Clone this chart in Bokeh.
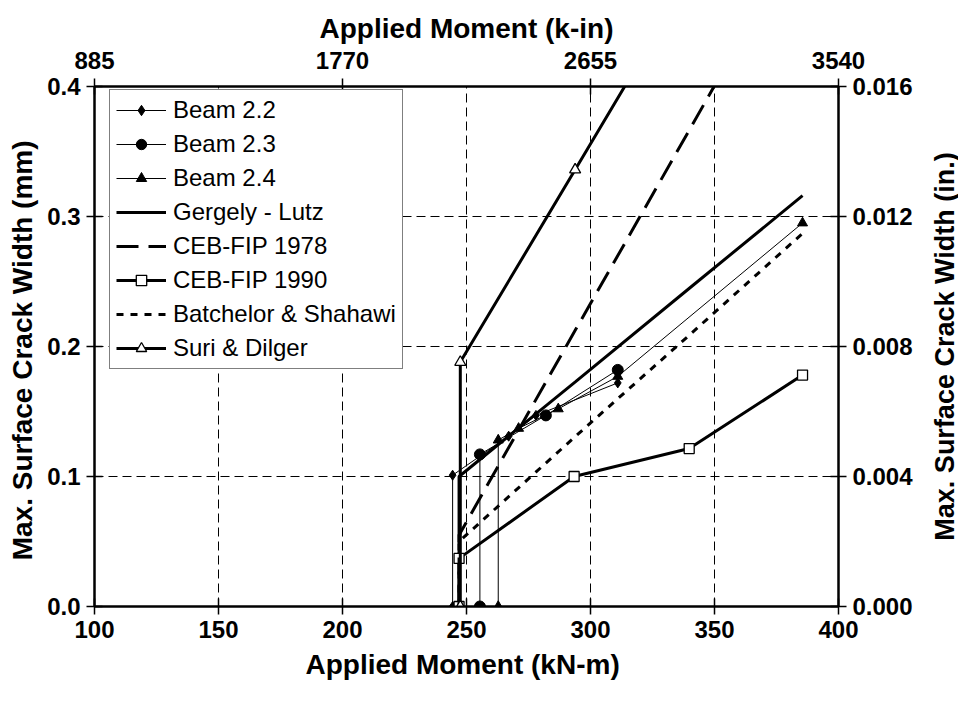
from bokeh.plotting import figure
from bokeh.layouts import row
from bokeh.models import (Range1d, LinearAxis, FixedTicker, NumeralTickFormatter,
                          Legend, LegendItem, Grid)
from bokeh.embed import file_html
from bokeh.resources import INLINE

# ---------------- data ----------------
beam22_m = [244.4, 244.4, 267.0, 278.0, 311.0]
beam22_w = [0.0, 0.101, 0.131, 0.147, 0.172]

beam23_m = [255.4, 255.4, 282.0, 311.0]
beam23_w = [0.0, 0.117, 0.147, 0.182]

beam24_m = [262.8, 262.8, 271.0, 287.0, 311.0, 385.5]
beam24_w = [0.0, 0.128, 0.137, 0.152, 0.177, 0.295]

gergely_m = [247.0, 247.0, 294.0, 340.0, 385.5]
gergely_w = [0.0, 0.100, 0.173, 0.245, 0.316]

ceb78_m = [247.0, 247.0, 294.0, 340.0, 385.5]
ceb78_w = [0.0, 0.055, 0.213, 0.367, 0.520]

ceb90_m = [247.0, 247.0, 293.4, 339.8, 385.5]
ceb90_w = [0.0, 0.037, 0.100, 0.1215, 0.178]

batch_m = [247.0, 247.0, 294.0, 340.0, 385.5]
batch_w = [0.0, 0.050, 0.131, 0.209, 0.287]

suri_m = [247.5, 247.5, 293.8, 340.0]
suri_w = [0.0, 0.188, 0.336, 0.484]

x_ticks = [100, 150, 200, 250, 300, 350, 400]
y_ticks = [0.0, 0.1, 0.2, 0.3, 0.4]
kin_ticks = [885, 1770, 2655, 3540]
in_ticks = [0.0, 0.004, 0.008, 0.012, 0.016]

FONT = "Liberation Sans"

p = figure(width=922, height=691, x_range=Range1d(100, 400), y_range=Range1d(0, 0.4),
           output_backend="svg", toolbar_location=None,
           x_axis_location=None, y_axis_location=None,
           min_border_left=94, min_border_right=84, min_border_top=86, min_border_bottom=85,
           background_fill_color="white", border_fill_color="white",
           outline_line_color="black", outline_line_width=2)
p.xgrid.grid_line_color = None
p.ygrid.grid_line_color = None
p.extra_x_ranges = {"kin": Range1d(885, 3540)}
p.extra_y_ranges = {"in": Range1d(0, 0.016)}

xb = LinearAxis(ticker=FixedTicker(ticks=x_ticks), formatter=NumeralTickFormatter(format="0"),
                axis_label="Applied Moment  (kN-m)")
yl = LinearAxis(ticker=FixedTicker(ticks=y_ticks), formatter=NumeralTickFormatter(format="0.0"),
                axis_label="Max. Surface Crack Width  (mm)")
xt = LinearAxis(x_range_name="kin", ticker=FixedTicker(ticks=kin_ticks),
                formatter=NumeralTickFormatter(format="0"), axis_label="Applied Moment (k-in)")
yr = LinearAxis(y_range_name="in", ticker=FixedTicker(ticks=in_ticks),
                formatter=NumeralTickFormatter(format="0.000"))

for ax in (xb, yl, xt, yr):
    ax.axis_line_width = 2
    ax.axis_line_color = "black"
    ax.major_tick_in = 8
    ax.major_tick_out = 8
    ax.major_tick_line_width = 1.5
    ax.major_tick_line_color = "black"
    ax.minor_tick_line_color = None
    ax.major_label_text_font = FONT
    ax.major_label_text_font_style = "bold"
    ax.major_label_text_font_size = "24px"
    ax.major_label_text_color = "black"
    ax.major_label_standoff = 6
    ax.axis_label_text_font = FONT
    ax.axis_label_text_font_style = "bold"
    ax.axis_label_text_font_size = "28px"
    ax.axis_label_text_color = "black"
    ax.axis_label_standoff = 8
xt.major_label_standoff = 10
xt.axis_label_standoff = 5
yl.axis_label_standoff = 6

p.add_layout(xb, "below")
p.add_layout(yl, "left")
p.add_layout(xt, "above")
p.add_layout(yr, "right")

for dim, tk in ((0, xb.ticker), (1, yl.ticker)):
    g = Grid(dimension=dim, ticker=tk, grid_line_color="black", grid_line_dash="9 5",
             grid_line_width=1)
    p.add_layout(g)

# ---------------- series ----------------
TH = 3
l22 = p.line(beam22_m, beam22_w, line_color="black", line_width=1)
s22 = p.scatter(beam22_m, beam22_w, marker="diamond", size=10, color="black")
l23 = p.line(beam23_m, beam23_w, line_color="black", line_width=1)
s23 = p.scatter(beam23_m, beam23_w, marker="circle", size=11, color="black")
l24 = p.line(beam24_m, beam24_w, line_color="black", line_width=1)
s24 = p.scatter(beam24_m, beam24_w, marker="triangle", size=10, color="black")
lg = p.line(gergely_m, gergely_w, line_color="black", line_width=TH)
l78 = p.line(ceb78_m, ceb78_w, line_color="black", line_width=TH, line_dash="22 10")
l90 = p.line(ceb90_m, ceb90_w, line_color="black", line_width=TH)
s90 = p.scatter(ceb90_m, ceb90_w, marker="square", size=10, fill_color="white",
                line_color="black", line_width=1.3)
lb = p.line(batch_m, batch_w, line_color="black", line_width=TH, line_dash="7 7")
ls = p.line(suri_m, suri_w, line_color="black", line_width=TH)
ss = p.scatter(suri_m, suri_w, marker="triangle", size=11, fill_color="white",
               line_color="black", line_width=1.3)

items = [
    LegendItem(label="Beam 2.2", renderers=[l22, s22]),
    LegendItem(label="Beam 2.3", renderers=[l23, s23]),
    LegendItem(label="Beam 2.4", renderers=[l24, s24]),
    LegendItem(label="Gergely - Lutz", renderers=[lg]),
    LegendItem(label="CEB-FIP 1978", renderers=[l78]),
    LegendItem(label="CEB-FIP 1990", renderers=[l90, s90]),
    LegendItem(label="Batchelor & Shahawi", renderers=[lb]),
    LegendItem(label="Suri & Dilger", renderers=[ls, ss]),
]
legend = Legend(items=items, location=(15, 237), label_text_font=FONT,
                label_text_font_size="24px", label_text_color="black",
                glyph_width=50, glyph_height=26, label_height=26, label_standoff=7,
                spacing=6, padding=6, margin=0,
                border_line_color="black", border_line_width=1.5,
                background_fill_color="white", background_fill_alpha=1)
p.add_layout(legend)

# ---------------- right-hand title (reads bottom-to-top) ----------------
p2 = figure(width=36, height=691, x_range=Range1d(0, 1), y_range=Range1d(0, 0.016),
            output_backend="svg", toolbar_location=None,
            x_axis_location=None, y_axis_location=None,
            min_border_left=34, min_border_right=0, min_border_top=86, min_border_bottom=85,
            background_fill_color="white", border_fill_color="white",
            outline_line_color=None)
p2.xgrid.grid_line_color = None
p2.ygrid.grid_line_color = None
rt = LinearAxis(ticker=FixedTicker(ticks=[]), axis_label="Max. Surface Crack Width (in.)",
                axis_line_color=None, major_tick_line_color=None, minor_tick_line_color=None,
                major_tick_in=0, major_tick_out=0, major_label_standoff=0,
                axis_label_standoff=-3, axis_label_text_font=FONT,
                axis_label_text_font_style="bold", axis_label_text_font_size="27px",
                axis_label_text_color="black")
p2.add_layout(rt, "left")

layout = row(p, p2)
open("out.html", "w").write(file_html(layout, INLINE))
